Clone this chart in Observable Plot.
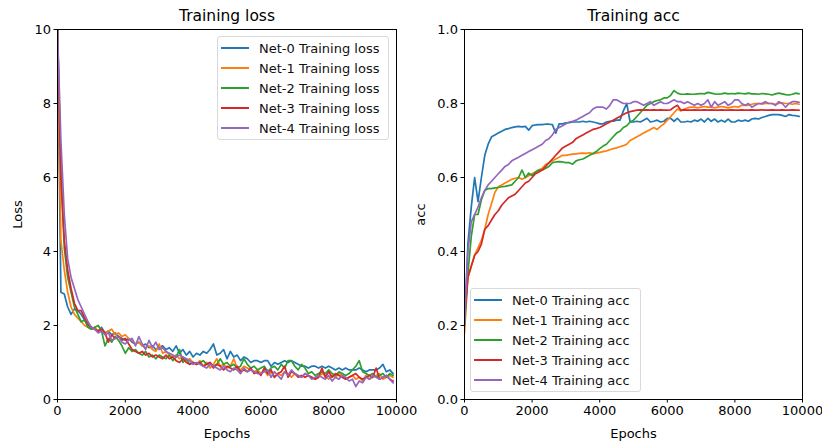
<!DOCTYPE html>
<html><head><meta charset="utf-8">
<script src="https://cdn.jsdelivr.net/npm/d3@7"></script>
<script src="https://cdn.jsdelivr.net/npm/@observablehq/plot@0.6"></script>
<style>
body{margin:0;background:#fff;}
#wrap{position:relative;width:822px;height:444px;font-family:"DejaVu Sans",sans-serif;overflow:hidden;}
.panel{position:absolute;top:0;}
.legend{position:absolute;box-sizing:border-box;border:1px solid #d9d9d9;border-radius:3px;background:rgba(255,255,255,0.85);font-size:13px;color:#111;padding:1px 0;}
.legend .row{display:flex;align-items:center;height:20px;white-space:nowrap;}
.legend .sw{width:28px;height:2px;margin:0 10px 0 3px;flex:none;}
</style></head>
<body><div id="wrap"></div>
<script>
const seriesIdx = [0,1,2,3,4];
const colors = ["#1f77b4","#ff7f0e","#2ca02c","#d62728","#9467bd"];
const lossNames = ["Net-0 Training loss","Net-1 Training loss","Net-2 Training loss","Net-3 Training loss","Net-4 Training loss"];
const accNames = ["Net-0 Training acc","Net-1 Training acc","Net-2 Training acc","Net-3 Training acc","Net-4 Training acc"];
const xTicks = [0,2000,4000,6000,8000,10000];
const lossTicks = [0,2,4,6,8,10];
const accTicks = [0,0.2,0.4,0.6,0.8,1.0];
const epochs = d3.range(0, 10000, 100);

const loss0 = [10,2.9,2.85,2.5,2.3,2.45,2.4,2.3,2.15,2.0,
1.95,1.9,1.85,1.95,1.8,1.85,1.75,1.8,1.7,1.65,
1.6,1.65,1.55,1.5,1.55,1.45,1.5,1.4,1.45,1.35,
1.4,1.45,1.35,1.4,1.3,1.45,1.25,1.35,1.2,1.3,
1.15,1.25,1.2,1.3,1.25,1.35,1.5,1.2,1.25,1.35,
1.1,1.3,1.15,1.2,1.05,1.15,1.1,1.0,1.05,1.05,
1.0,1.05,1.05,0.9,1.0,0.95,1.0,1.05,1.0,1.05,
1.0,0.95,0.9,0.9,0.85,0.9,0.9,0.85,0.9,0.85,
0.9,0.85,0.8,0.85,0.8,0.85,0.8,0.8,0.8,0.85,
0.8,0.75,0.8,0.8,0.8,0.85,0.95,0.75,0.8,0.7];
const loss1 = [10,4.3,3.5,2.9,2.5,2.3,2.2,2.1,2.0,1.95,
1.9,1.95,1.85,1.9,1.8,1.85,1.9,1.75,1.8,1.7,
1.75,1.65,1.6,1.5,1.55,1.45,1.4,1.45,1.35,1.3,
1.5,1.25,1.3,1.2,1.15,1.2,1.1,1.15,1.05,1.1,
1.0,0.95,1.05,0.9,1.0,0.85,0.95,1.1,0.9,0.95,
0.85,0.9,1.1,0.85,0.8,0.9,0.85,0.8,0.75,0.8,
0.7,0.8,0.65,0.75,0.6,0.7,0.65,0.75,0.7,0.6,
0.7,0.65,0.6,0.7,0.65,0.6,0.55,0.6,0.7,0.65,
0.55,0.65,0.6,0.7,0.65,0.55,0.6,0.65,0.55,0.6,
0.5,0.65,0.55,0.6,0.65,0.7,0.55,0.6,0.65,0.6];
const loss2 = [10,6.2,4.1,3.3,2.9,2.5,2.3,2.1,2.15,1.95,
1.9,1.95,2.0,1.85,1.45,1.65,1.55,1.7,1.6,1.45,
1.25,1.4,1.3,1.35,1.25,1.2,1.3,1.15,1.2,1.1,
1.2,1.15,1.1,1.2,1.05,1.15,1.35,1.0,1.1,0.95,
1.0,0.95,1.0,1.05,0.95,1.0,0.9,0.95,1.1,0.95,
1.0,0.9,0.95,0.85,0.9,1.1,0.95,0.85,0.9,0.8,
0.85,0.9,0.75,0.85,0.9,0.8,0.95,0.85,1.05,1.05,
0.9,0.8,0.95,0.85,0.7,0.75,0.65,0.7,0.75,0.7,
0.8,0.7,0.65,0.75,0.7,0.65,0.7,0.8,0.9,1.05,
0.75,0.7,0.65,0.7,0.6,0.65,0.7,0.6,0.7,0.65];
const loss3 = [10,6.0,4.3,3.5,3.0,2.6,2.4,2.4,2.2,2.05,
1.95,1.9,1.85,1.9,1.8,1.55,1.75,1.65,1.7,1.6,
1.65,1.5,1.35,1.3,1.25,1.3,1.2,1.25,1.15,1.2,
1.15,1.1,1.2,1.1,1.15,1.05,1.0,1.1,1.0,0.95,
1.0,0.95,1.0,0.9,0.95,1.0,0.85,0.95,0.9,0.8,
0.9,0.85,0.8,0.9,0.75,0.8,0.75,0.85,0.7,0.75,
0.65,0.85,0.7,0.8,0.6,0.7,0.75,0.9,0.6,0.75,
0.7,0.6,0.65,0.6,0.65,0.6,0.55,0.6,0.85,0.6,
0.75,0.6,0.7,0.65,0.6,0.55,0.6,0.65,0.7,0.6,
0.55,0.6,0.65,0.6,0.85,0.55,0.6,0.65,0.55,0.5];
const loss4 = [10,7.0,5.0,3.8,3.3,3.0,2.7,2.5,2.3,2.1,
1.95,1.9,1.8,1.85,1.75,1.8,1.6,1.65,1.7,1.55,
1.5,1.6,1.65,1.45,1.7,1.5,1.35,1.6,1.4,1.55,
1.35,1.4,1.3,1.25,1.2,1.15,1.2,1.15,1.1,1.05,
0.95,1.0,0.95,0.9,0.85,0.95,0.9,0.85,0.8,0.9,
0.8,0.75,0.85,0.8,0.7,0.85,0.75,0.8,0.75,0.7,
0.7,0.75,0.8,0.6,0.75,0.65,0.55,0.75,0.65,0.8,
0.7,0.65,0.6,0.7,0.65,0.55,0.6,0.65,0.6,0.55,
0.65,0.5,0.6,0.55,0.65,0.6,0.5,0.55,0.35,0.5,
0.45,0.6,0.55,0.65,0.6,0.55,0.6,0.65,0.55,0.45];

const acc0 = [0.2,0.42,0.52,0.6,0.535,0.6,0.66,0.69,0.71,0.715,
0.72,0.725,0.73,0.732,0.735,0.737,0.738,0.737,0.738,0.728,
0.74,0.742,0.743,0.743,0.744,0.744,0.743,0.72,0.745,0.745,
0.748,0.748,0.75,0.75,0.75,0.752,0.75,0.752,0.75,0.748,
0.745,0.745,0.75,0.752,0.752,0.755,0.755,0.78,0.8,0.75,
0.75,0.752,0.75,0.755,0.76,0.75,0.752,0.755,0.75,0.752,
0.76,0.76,0.752,0.76,0.75,0.75,0.752,0.75,0.755,0.752,
0.758,0.75,0.76,0.752,0.758,0.75,0.755,0.75,0.758,0.75,
0.75,0.755,0.752,0.755,0.752,0.758,0.76,0.758,0.762,0.765,
0.768,0.77,0.77,0.77,0.768,0.765,0.77,0.768,0.767,0.765];
const acc1 = [0.18,0.33,0.36,0.39,0.41,0.43,0.46,0.5,0.53,0.56,
0.575,0.58,0.585,0.59,0.595,0.598,0.6,0.595,0.6,0.605,
0.61,0.615,0.62,0.625,0.635,0.64,0.645,0.65,0.655,0.66,
0.66,0.662,0.663,0.664,0.665,0.666,0.665,0.667,0.664,0.666,
0.668,0.67,0.672,0.675,0.678,0.68,0.683,0.686,0.69,0.7,
0.705,0.71,0.715,0.72,0.725,0.73,0.735,0.73,0.738,0.745,
0.755,0.765,0.775,0.785,0.78,0.785,0.788,0.79,0.79,0.788,
0.79,0.792,0.79,0.79,0.788,0.79,0.792,0.79,0.788,0.79,
0.792,0.79,0.795,0.795,0.795,0.798,0.8,0.8,0.798,0.8,
0.8,0.8,0.798,0.8,0.802,0.8,0.8,0.798,0.8,0.798];
const acc2 = [0.2,0.34,0.44,0.5,0.5,0.54,0.565,0.57,0.57,0.572,
0.573,0.575,0.576,0.578,0.58,0.59,0.6,0.62,0.6,0.612,
0.605,0.615,0.62,0.62,0.625,0.63,0.64,0.642,0.643,0.642,
0.64,0.64,0.636,0.645,0.648,0.65,0.655,0.66,0.665,0.67,
0.678,0.685,0.69,0.7,0.71,0.72,0.725,0.735,0.74,0.75,
0.755,0.765,0.775,0.785,0.795,0.8,0.805,0.808,0.81,0.815,
0.815,0.822,0.835,0.828,0.825,0.825,0.826,0.825,0.825,0.826,
0.827,0.826,0.83,0.828,0.826,0.825,0.826,0.828,0.826,0.827,
0.826,0.828,0.827,0.826,0.828,0.826,0.826,0.825,0.827,0.826,
0.825,0.823,0.826,0.828,0.826,0.824,0.823,0.825,0.828,0.826];
const acc3 = [0.22,0.33,0.36,0.39,0.4,0.42,0.46,0.47,0.485,0.5,
0.51,0.525,0.535,0.545,0.55,0.555,0.565,0.575,0.585,0.59,
0.6,0.61,0.615,0.62,0.63,0.64,0.65,0.66,0.67,0.68,
0.685,0.69,0.695,0.705,0.71,0.715,0.72,0.725,0.73,0.732,
0.735,0.74,0.745,0.75,0.755,0.76,0.765,0.77,0.775,0.778,
0.78,0.782,0.783,0.782,0.783,0.782,0.783,0.782,0.783,0.782,
0.782,0.783,0.79,0.795,0.782,0.783,0.782,0.782,0.783,0.782,
0.782,0.783,0.782,0.783,0.782,0.782,0.783,0.782,0.782,0.783,
0.782,0.782,0.783,0.782,0.782,0.783,0.782,0.782,0.783,0.782,
0.782,0.783,0.782,0.782,0.783,0.782,0.782,0.783,0.782,0.782];
const acc4 = [0.2,0.4,0.48,0.5,0.52,0.545,0.565,0.58,0.59,0.6,
0.61,0.62,0.63,0.635,0.645,0.65,0.655,0.66,0.665,0.67,
0.675,0.68,0.685,0.69,0.7,0.705,0.715,0.73,0.735,0.74,
0.745,0.75,0.752,0.755,0.76,0.765,0.77,0.775,0.785,0.79,
0.79,0.79,0.785,0.795,0.81,0.81,0.805,0.8,0.8,0.8,
0.805,0.805,0.8,0.795,0.8,0.805,0.795,0.8,0.805,0.8,
0.8,0.805,0.81,0.805,0.805,0.8,0.805,0.8,0.795,0.8,
0.795,0.8,0.81,0.79,0.805,0.795,0.8,0.805,0.795,0.8,
0.81,0.81,0.8,0.795,0.8,0.79,0.795,0.8,0.8,0.805,
0.8,0.8,0.795,0.805,0.8,0.79,0.8,0.805,0.805,0.803];

const lossSeries = [loss0, loss1, loss2, loss3, loss4];
const accSeries = [acc0, acc1, acc2, acc3, acc4];

function tidy(names, series) {
  const out = [];
  seriesIdx.forEach(s => series[s].forEach((v, i) => out.push({epoch: epochs[i], value: v, series: names[s]})));
  return out;
}

function panel(opts) {
  const data = tidy(opts.names, opts.series);
  return Plot.plot({
    width: 411, height: 444,
    marginLeft: opts.ml, marginRight: opts.mr, marginTop: 29, marginBottom: 45,
    style: {fontFamily: "'DejaVu Sans', sans-serif", fontSize: "13px", color: "#000", background: "transparent", overflow: "visible"},
    x: {domain: [0, 10000]},
    y: {domain: opts.ydomain},
    color: {domain: opts.names, range: colors},
    marks: [
      Plot.line(data, {x: "epoch", y: "value", stroke: "series", z: "series", strokeWidth: 1.7, clip: true}),
      Plot.frame({stroke: "#000", strokeWidth: 1}),
      Plot.axisX({ticks: xTicks, tickSize: 3.5, tickPadding: 3, tickFormat: d3.format("d"),
        label: "Epochs", labelAnchor: "center", labelArrow: "none", labelOffset: 38}),
      Plot.axisY({ticks: opts.yticks, tickSize: 3.5, tickPadding: 3, tickFormat: opts.yfmt,
        label: opts.ylabel, labelAnchor: "center", labelArrow: "none", labelOffset: opts.ylo}),
      Plot.text([opts.title], {frameAnchor: "top", lineAnchor: "middle", dy: -13, fontSize: 15.5, fill: "#000"})
    ]
  });
}

function legend(names, left, top, width) {
  const div = document.createElement("div");
  div.className = "legend";
  div.style.left = left + "px"; div.style.top = top + "px"; div.style.width = width + "px";
  names.forEach((n, i) => {
    const row = document.createElement("div"); row.className = "row";
    const sw = document.createElement("span"); sw.className = "sw"; sw.style.background = colors[i];
    const tx = document.createElement("span"); tx.textContent = n;
    row.appendChild(sw); row.appendChild(tx); div.appendChild(row);
  });
  return div;
}

const wrap = document.getElementById("wrap");
const left = panel({names: lossNames, series: lossSeries, ydomain: [0, 10], yticks: lossTicks,
  yfmt: d3.format("d"), ylabel: "Loss", ylo: 45, title: "Training loss", ml: 57, mr: 15});
left.classList.add("panel"); left.style.left = "0px";
const right = panel({names: accNames, series: accSeries, ydomain: [0, 1], yticks: accTicks,
  yfmt: d3.format(".1f"), ylabel: "acc", ylo: 49, title: "Training acc", ml: 53, mr: 20});
right.classList.add("panel"); right.style.left = "411px";
wrap.appendChild(left);
wrap.appendChild(right);
wrap.appendChild(legend(lossNames, 217, 36, 172));
wrap.appendChild(legend(accNames, 470, 288, 171));
</script></body></html>
